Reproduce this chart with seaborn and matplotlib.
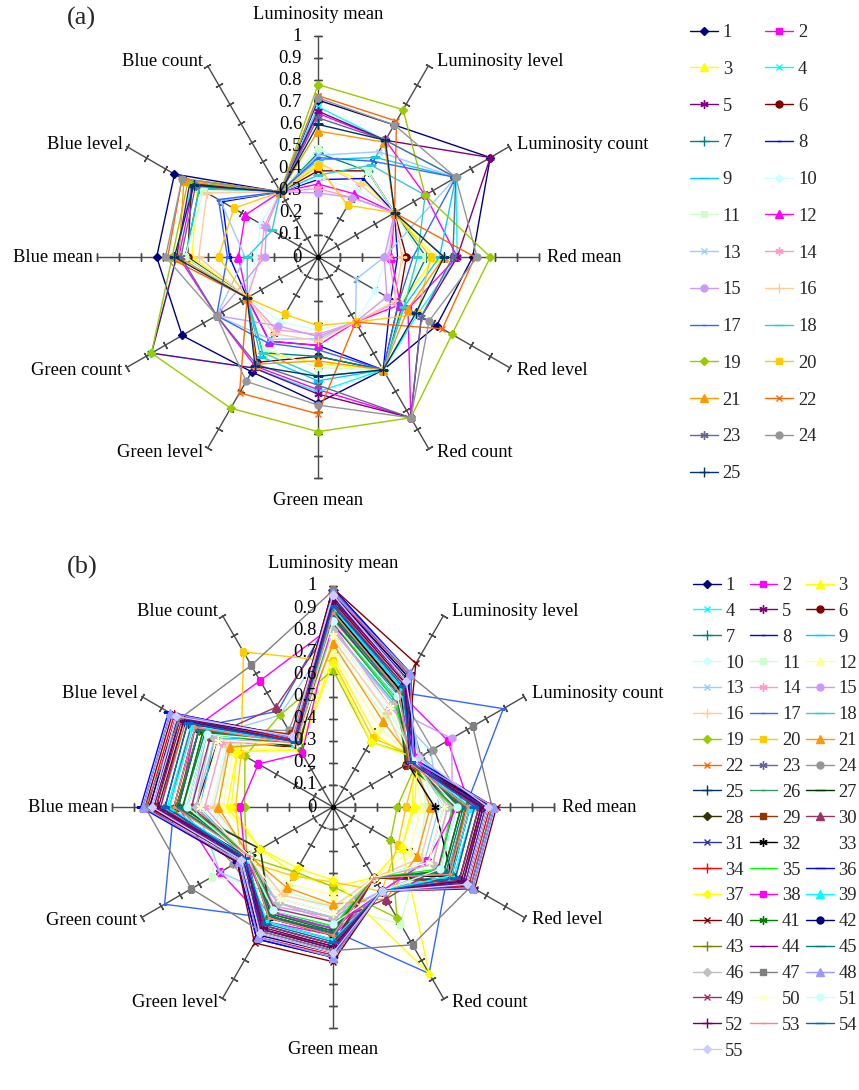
import numpy as np
import pandas as pd
import matplotlib
matplotlib.use("Agg")
import matplotlib.pyplot as plt
import seaborn as sns

sns.set_theme(style="white")
plt.rcParams["font.family"] = ["Liberation Serif", "DejaVu Serif"]

# ---------------------------------------------------------------- categories
AXIS_NAMES = ["Luminosity mean", "Luminosity level", "Luminosity count",
              "Red mean", "Red level", "Red count",
              "Green mean", "Green level", "Green count",
              "Blue mean", "Blue level", "Blue count"]
R_TICKS = [0.0, 0.1, 0.2, 0.3, 0.4, 0.5, 0.6, 0.7, 0.8, 0.9, 1.0]
R_TICK_LABELS = ["0", "0.1", "0.2", "0.3", "0.4", "0.5", "0.6", "0.7", "0.8", "0.9", "1"]

# ---------------------------------------------------------------- panel (a): 25 images
a_lum_mean = [.71, .65, .42, .68, .66, .39, .47, .35, .44, .36, .49, .33, .46,
              .31, .29, .43, .45, .37, .78, .41, .57, .73, .63, .72, .60]
a_lum_level = [.69, .61, .40, .61, .61, .45, .45, .41, .52, .35, .45, .33, .55,
               .31, .31, .38, .50, .48, .77, .27, .60, .71, .61, .69, .61]
a_lum_count = [.90, .56, .40, .72, .90, .40, .40, .40, .72, .40, .40, .40, .72,
               .40, .40, .40, .72, .56, .56, .40, .40, .40, .72, .72, .40]
a_red_mean = [.70, .63, .53, .63, .63, .40, .49, .36, .55, .31, .47, .33, .30,
              .32, .30, .38, .43, .45, .78, .51, .57, .71, .61, .72, .57]
a_red_level = [.62, .47, .43, .52, .54, .42, .44, .38, .45, .30, .43, .43, .20,
               .41, .36, .40, .42, .45, .70, .52, .47, .65, .54, .58, .51]
a_red_count = [.59, .84, .59, .59, .84, .59, .59, .59, .59, .34, .59, .34, .34,
               .34, .34, .34, .59, .59, .84, .34, .59, .34, .84, .84, .59]
a_green_mean = [.66, .60, .48, .61, .62, .45, .45, .40, .56, .33, .50, .40, .37,
                .35, .36, .38, .42, .54, .79, .31, .47, .71, .58, .67, .54]
a_green_level = [.60, .57, .50, .58, .58, .55, .50, .44, .52, .34, .48, .44, .43,
                 .38, .36, .40, .45, .50, .79, .30, .56, .71, .56, .65, .57]
a_green_count = [.71, .53, .37, .87, .87, .37, .37, .37, .37, .37, .37, .37, .53,
                 .37, .53, .37, .53, .37, .87, .37, .37, .37, .53, .53, .37]
a_blue_mean = [.73, .63, .57, .64, .64, .59, .60, .40, .60, .28, .60, .36, .33,
               .26, .24, .54, .41, .32, .66, .45, .63, .68, .62, .69, .65]
a_blue_level = [.75, .65, .63, .66, .67, .66, .62, .50, .62, .30, .60, .38, .51,
                .28, .27, .58, .52, .24, .68, .44, .70, .71, .64, .71, .65]
a_blue_count = [.34, .34, .34, .34, .34, .34, .34, .34, .34, .34, .34, .34, .34,
                .34, .34, .34, .34, .34, .34, .34, .34, .34, .34, .34, .34]

# ---------------------------------------------------------------- panel (b): 55 images
b_lum_mean = [.95, .82, .68, .92, .96, .90, .86, .99, .80, .75,
              .72, .70, .78, .80, .82, .76, .88, .84, .62, .66,
              .74, .93, .90, .87, .91, .85, .88, .87, .94, .83,
              .95, .89, .80, .97, .84, .98, .65, .85, .90, .99,
              .86, .96, .88, .94, .87, .80, .98, .97, .92, .78,
              .84, .93, .88, .91, .96]
b_lum_level = [.66, .60, .38, .63, .68, .62, .58, .70, .55, .50,
               .47, .42, .52, .54, .52, .49, .60, .57, .34, .36,
               .45, .65, .62, .60, .64, .58, .61, .60, .66, .56,
               .67, .61, .55, .69, .56, .70, .34, .58, .62, .75,
               .58, .68, .60, .66, .59, .54, .69, .70, .64, .52,
               .58, .65, .60, .63, .66]
b_lum_count = [.40, .60, .42, .45, .41, .40, .40, .42, .43, .44,
               .45, .42, .51, .43, .62, .40, .89, .42, .45, .45,
               .42, .41, .46, .52, .40, .38, .39, .38, .38, .40,
               .41, .39, .40, .42, .40, .43, .44, .44, .41, .38,
               .40, .42, .39, .40, .40, .42, .73, .42, .40, .42,
               .42, .40, .40, .41, .45]
b_red_mean = [.68, .62, .36, .64, .70, .60, .58, .72, .50, .46,
              .42, .40, .48, .52, .54, .46, .60, .56, .29, .33,
              .44, .66, .64, .60, .66, .58, .62, .60, .67, .55,
              .69, .46, .55, .71, .54, .73, .37, .56, .62, .74,
              .58, .70, .60, .68, .59, .52, .72, .73, .66, .50,
              .56, .67, .61, .64, .70]
b_red_level = [.68, .62, .36, .63, .70, .62, .58, .72, .50, .46,
               .45, .40, .48, .52, .55, .46, .60, .56, .30, .34,
               .44, .66, .64, .60, .66, .58, .62, .61, .68, .55,
               .69, .62, .55, .71, .56, .73, .36, .49, .62, .74,
               .58, .70, .61, .68, .59, .52, .72, .73, .66, .50,
               .56, .67, .61, .64, .70]
b_red_count = [.37, .44, .37, .44, .44, .37, .37, .44, .37, .37,
               .61, .37, .44, .37, .44, .37, .87, .44, .58, .44,
               .48, .44, .44, .44, .37, .37, .37, .37, .37, .48,
               .44, .37, .37, .44, .37, .44, .87, .44, .44, .44,
               .37, .44, .37, .44, .37, .37, .72, .44, .44, .37,
               .44, .44, .37, .44, .44]
b_green_mean = [.64, .58, .36, .60, .66, .58, .55, .68, .50, .46,
                .45, .40, .48, .52, .50, .45, .56, .54, .36, .34,
                .44, .62, .60, .57, .62, .55, .58, .57, .63, .52,
                .65, .58, .52, .67, .54, .68, .33, .55, .60, .70,
                .56, .66, .58, .64, .57, .50, .65, .68, .62, .48,
                .53, .63, .58, .61, .66]
b_green_level = [.64, .60, .35, .60, .66, .57, .55, .69, .50, .46,
                 .44, .40, .48, .50, .52, .46, .58, .54, .34, .36,
                 .42, .62, .60, .57, .62, .56, .58, .57, .64, .53,
                 .65, .58, .52, .68, .54, .69, .32, .55, .60, .71,
                 .56, .67, .58, .64, .57, .50, .65, .68, .62, .48,
                 .54, .63, .58, .61, .66]
b_green_count = [.47, .59, .38, .48, .46, .45, .44, .50, .46, .44,
                 .63, .38, .59, .45, .45, .43, .88, .46, .45, .48,
                 .44, .46, .50, .52, .45, .38, .43, .38, .45, .44,
                 .47, .44, .44, .48, .44, .50, .38, .46, .46, .50,
                 .44, .48, .44, .46, .44, .44, .74, .49, .46, .44,
                 .45, .46, .44, .46, .48]
b_blue_mean = [.80, .70, .48, .75, .83, .62, .68, .86, .60, .55,
               .52, .50, .62, .58, .64, .54, .72, .66, .40, .44,
               .52, .78, .74, .70, .76, .68, .72, .70, .80, .64,
               .82, .71, .64, .84, .66, .87, .46, .42, .74, .85,
               .68, .83, .71, .81, .70, .62, .85, .86, .78, .60,
               .66, .79, .72, .76, .82]
b_blue_level = [.80, .72, .50, .74, .82, .60, .67, .85, .62, .56,
                .55, .52, .64, .58, .66, .55, .72, .66, .46, .48,
                .54, .77, .74, .70, .76, .68, .72, .70, .79, .64,
                .81, .70, .64, .83, .66, .86, .50, .39, .73, .84,
                .68, .82, .70, .80, .70, .62, .80, .85, .78, .60,
                .66, .78, .72, .76, .82]
b_blue_count = [.34, .66, .30, .36, .34, .31, .33, .37, .36, .34,
                .38, .31, .48, .34, .36, .33, .50, .34, .48, .81,
                .34, .34, .38, .40, .33, .31, .32, .31, .38, .52,
                .34, .32, .33, .35, .33, .36, .30, .28, .34, .37,
                .32, .36, .32, .34, .33, .33, .74, .36, .34, .33,
                .34, .34, .33, .34, .37]

# ---------------------------------------------------------------- series colours
A_COLORS = ["#000080", "#FF00FF", "#FFFF00", "#00FFFF", "#800080", "#800000",
            "#008080", "#0000FF", "#00CCFF", "#CCFFFF", "#CCFFCC", "#FF00FF",
            "#99CCFF", "#FF99CC", "#CC99FF", "#FFCC99", "#3366FF", "#33CCCC",
            "#99CC00", "#FFCC00", "#FF9900", "#FF6600", "#666699", "#969696",
            "#003366"]
B_COLORS = ["#000080", "#FF00FF", "#FFFF00", "#00FFFF", "#800080", "#800000",
            "#008080", "#0000FF", "#00CCFF", "#CCFFFF", "#CCFFCC", "#FFFF99",
            "#99CCFF", "#FF99CC", "#CC99FF", "#FFCC99", "#3366FF", "#33CCCC",
            "#99CC00", "#FFCC00", "#FF9900", "#FF6600", "#666699", "#969696",
            "#003366", "#339966", "#003300", "#333300", "#993300", "#993366",
            "#333399", "#000000", None, "#FF0000", "#00FF00", "#0000FF",
            "#FFFF00", "#FF00FF", "#00FFFF", "#800000", "#008000", "#000080",
            "#808000", "#800080", "#008080", "#C0C0C0", "#808080", "#9999FF",
            "#993366", "#FFFFCC", "#CCFFFF", "#660066", "#FF8080", "#0066CC",
            "#CCCCFF"]

# marker cycle: diamond, square, triangle, x, star, circle, plus, short dash, long dash
MARKER_CYCLE = [("D", 4.3), ("s", 4.6), ("^", 5.2), ("x", 5.0), ((6, 2, 0), 6.0),
                ("o", 5.0), ("+", 6.5), ("_", 3.5), ("_", 6.5)]

DPI = 100
W, H = 859, 1090
PT = 72.0 / DPI          # points per pixel
FS = 13.3                # text size in points
R_PX = 221               # radius of the value 1 ring in pixels
AXIS_GREY = "#4a4a4a"


def frame(columns, n):
    df = pd.DataFrame(dict(zip(AXIS_NAMES, columns)))
    assert len(df) == n
    df.index = [str(i + 1) for i in range(n)]
    return df


def radar_axes(fig, cx, cy):
    rect = [(cx - R_PX) / W, 1 - (cy + R_PX) / H, 2 * R_PX / W, 2 * R_PX / H]
    ax = fig.add_axes(rect, projection="polar")
    ax.set_theta_zero_location("N")
    ax.set_theta_direction(-1)
    ax.set_facecolor("none")
    ax.grid(False)
    ax.spines["polar"].set_visible(False)
    ax.set_xticks([])
    ax.set_yticks([])
    return ax


def draw_frame(ax):
    thetas = np.deg2rad(np.arange(12) * 30.0)
    # dashed ring at the first value step
    ring = np.linspace(0, 2 * np.pi, 241)
    ax.plot(ring, np.full_like(ring, 0.1), ls=(0, (3, 2.5)), color="#777777",
            lw=0.8, zorder=1)
    for k, th in enumerate(thetas):
        ax.plot([th, th], [0, 1], color=AXIS_GREY, lw=1.0, zorder=1, clip_on=False)
        ang = 90 - k * 30
        ax.plot([th] * 10, R_TICKS[1:], ls="none", marker=(2, 2, ang),
                markersize=8 * PT, markeredgewidth=1.0, color=AXIS_GREY,
                zorder=1, clip_on=False)
    ax.plot([0], [0], marker="o", markersize=3, color="black", zorder=1)
    # value labels along the top spoke
    for r, lab in zip(R_TICKS, R_TICK_LABELS):
        ax.annotate(lab, xy=(0, r), xytext=(-16 * PT, 0), textcoords="offset points",
                    ha="right", va="center", fontsize=FS, color="black",
                    annotation_clip=False, zorder=6)
    # category names at the spoke ends
    for k, (th, name) in enumerate(zip(thetas, AXIS_NAMES)):
        deg = k * 30
        if deg == 0:
            off, ha = (0, 22 * PT), "center"
        elif deg == 180:
            off, ha = (0, -22 * PT), "center"
        elif deg < 180:
            off, ha = (8 * PT, 5 * PT * np.cos(th)), "left"
        else:
            off, ha = (-4 * PT, 5 * PT * np.cos(th)), "right"
        ax.annotate(name, xy=(th, 1), xytext=off, textcoords="offset points",
                    ha=ha, va="center", fontsize=FS, color="black",
                    annotation_clip=False)


def draw_series(ax, df, colors):
    thetas = np.deg2rad(np.arange(12) * 30.0)
    th_closed = np.append(thetas, 2 * np.pi)
    handles = []
    for i, (name, row) in enumerate(df.iterrows()):
        vals = row.to_numpy(dtype=float)
        r_closed = np.append(vals, vals[0])
        marker, ms = MARKER_CYCLE[i % len(MARKER_CYCLE)]
        col = colors[i]
        alpha = 1.0
        if col is None:
            col, alpha = "#FFFFFF", 0.0
        sns.lineplot(x=th_closed, y=r_closed, ax=ax, sort=False, estimator=None,
                     color=col, marker=marker, markersize=ms,
                     markeredgecolor=col, markerfacecolor=col,
                     markeredgewidth=1.0, linewidth=1.0, alpha=alpha,
                     legend=False, zorder=2 + i * 0.01)
        line = ax.lines[-1]
        line.set_label(name)
        handles.append(line)
    if ax.get_legend() is not None:
        ax.get_legend().remove()
    ax.set_ylim(0, 1)
    ax.set_xlabel("")
    ax.set_ylabel("")
    return handles


def row_major(handles, ncol):
    order = []
    for c in range(ncol):
        order.extend(range(c, len(handles), ncol))
    return [handles[i] for i in order]


panel_a = frame([a_lum_mean, a_lum_level, a_lum_count, a_red_mean, a_red_level,
                 a_red_count, a_green_mean, a_green_level, a_green_count,
                 a_blue_mean, a_blue_level, a_blue_count], 25)
panel_b = frame([b_lum_mean, b_lum_level, b_lum_count, b_red_mean, b_red_level,
                 b_red_count, b_green_mean, b_green_level, b_green_count,
                 b_blue_mean, b_blue_level, b_blue_count], 55)

fig = plt.figure(figsize=(W / DPI, H / DPI), dpi=DPI)
fig.patch.set_facecolor("white")

ax_a = radar_axes(fig, 318, 257)
draw_frame(ax_a)
h_a = draw_series(ax_a, panel_a, A_COLORS)

ax_b = radar_axes(fig, 333, 807)
draw_frame(ax_b)
h_b = draw_series(ax_b, panel_b, B_COLORS)

fig.text(67 / W, 1 - 18 / H, "(a)", fontsize=19, ha="left", va="center")
fig.text(67 / W, 1 - 567 / H, "(b)", fontsize=19, ha="left", va="center")

hs = row_major(h_a, 2)
fig.legend(hs, [h.get_label() for h in hs], loc="upper left",
           bbox_to_anchor=(690 / W, 1 - 24 / H), ncol=2, frameon=False,
           fontsize=FS, handlelength=1.52, handletextpad=0.25,
           columnspacing=1.3, labelspacing=1.07, borderpad=0, borderaxespad=0)

hs = row_major(h_b, 3)
fig.legend(hs, [h.get_label() for h in hs], loc="upper left",
           bbox_to_anchor=(693 / W, 1 - 577 / H), ncol=3, frameon=False,
           fontsize=FS, handlelength=1.5, handletextpad=0.25,
           columnspacing=0.3, labelspacing=0.48, borderpad=0, borderaxespad=0)

fig.savefig("out.png", dpi=DPI, facecolor="white")
